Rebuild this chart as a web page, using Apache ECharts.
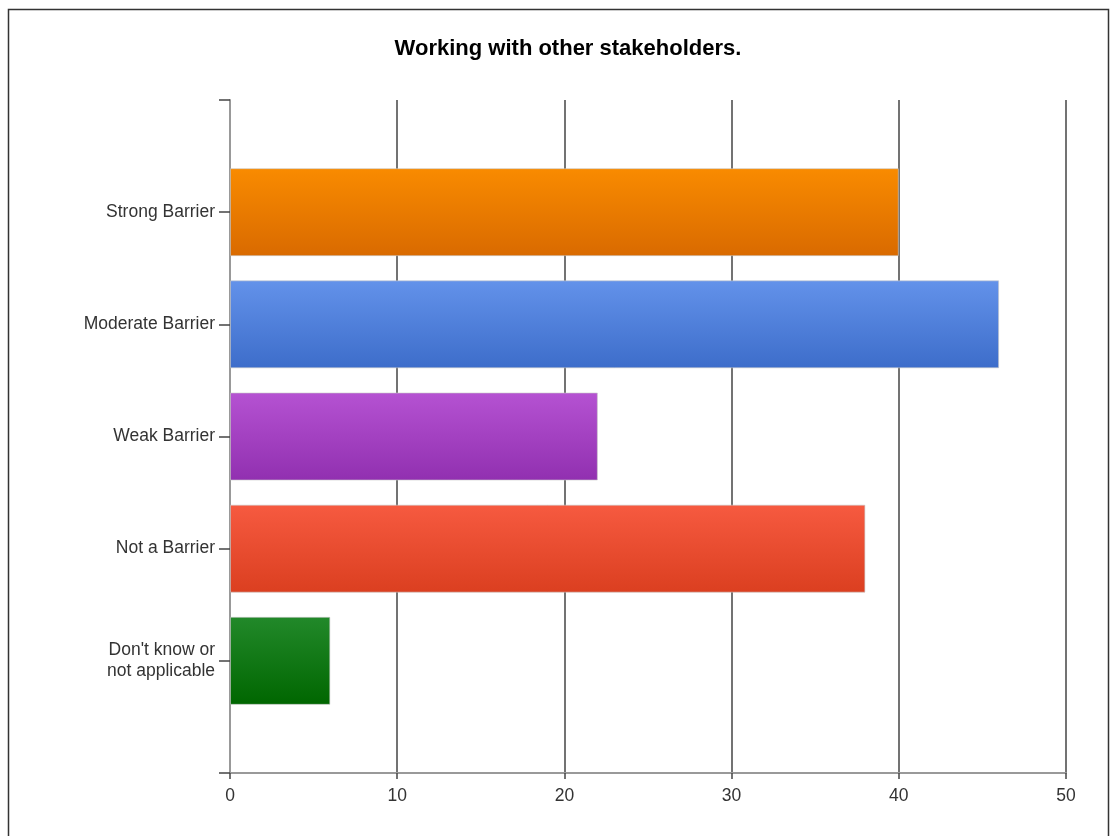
<!DOCTYPE html>
<html>
<head>
<meta charset="utf-8">
<script src="https://cdn.jsdelivr.net/npm/echarts@6/dist/echarts.min.js"></script>
<style>
html,body{margin:0;padding:0;background:#fff;}
#c{width:1112px;height:836px;}
</style>
</head>
<body>
<div id="c"></div>
<script>
const title = 'Working with other stakeholders.';
const categories = ['', 'Strong Barrier', 'Moderate Barrier', 'Weak Barrier', 'Not a Barrier', "Don't know or\nnot applicable", ''];
const values = [null, 40, 46, 22, 38, 6, null];
const topColors = [null, '#f98b00', '#6392ea', '#b552d2', '#f65a40', '#22892a', null];
const bottomColors = [null, '#d96a00', '#3d6dca', '#9130b0', '#db3f20', '#006600', null];
const xTicks = [0, 10, 20, 30, 40, 50];

const FONT = 'Liberation Sans, Arial, sans-serif';
const chart = echarts.init(document.getElementById('c'), null, {renderer: 'canvas'});
const data = values.map((v, i) => v === null ? null : {
  value: v,
  itemStyle: {
    color: new echarts.graphic.LinearGradient(0, 0, 0, 1, [
      {offset: 0, color: topColors[i]},
      {offset: 1, color: bottomColors[i]}
    ]),
    borderColor: 'rgba(200,200,200,0.6)',
    borderWidth: 1
  }
});
chart.setOption({
  animation: false,
  backgroundColor: '#fff',
  title: {
    text: title,
    left: 563, top: 33,
    textAlign: 'center',
    textStyle: {fontFamily: FONT, fontWeight: 'bold', fontSize: 22, color: '#000'}
  },
  graphic: [{
    type: 'rect', silent: true, z: -1,
    shape: {x: 8.5, y: 9.5, width: 1100, height: 840},
    style: {fill: 'none', stroke: '#333', lineWidth: 1.5}
  }],
  grid: {left: 230, right: 46, top: 100, bottom: 63, containLabel: false},
  xAxis: {
    type: 'value', min: xTicks[0], max: xTicks[xTicks.length - 1], interval: 10,
    axisLine: {show: true, lineStyle: {color: '#999', width: 2}},
    axisTick: {show: true, length: 6, lineStyle: {color: '#444', width: 1.5}},
    axisLabel: {color: '#333', fontSize: 17.5, fontFamily: FONT, margin: 14},
    splitLine: {show: true, lineStyle: {color: '#444', width: 1.5}}
  },
  yAxis: {
    type: 'category', data: categories, inverse: true, boundaryGap: false,
    axisLine: {show: true, lineStyle: {color: '#999', width: 2}},
    axisTick: {show: true, length: 11, alignWithLabel: true, lineStyle: {color: '#444', width: 1.5}},
    axisLabel: {color: '#333', fontSize: 17.5, fontFamily: FONT, margin: 15, align: 'right', lineHeight: 21, interval: 0},
    splitLine: {show: false}
  },
  series: [{
    type: 'bar', data: data, barWidth: 88
  }]
});
</script>
</body>
</html>
